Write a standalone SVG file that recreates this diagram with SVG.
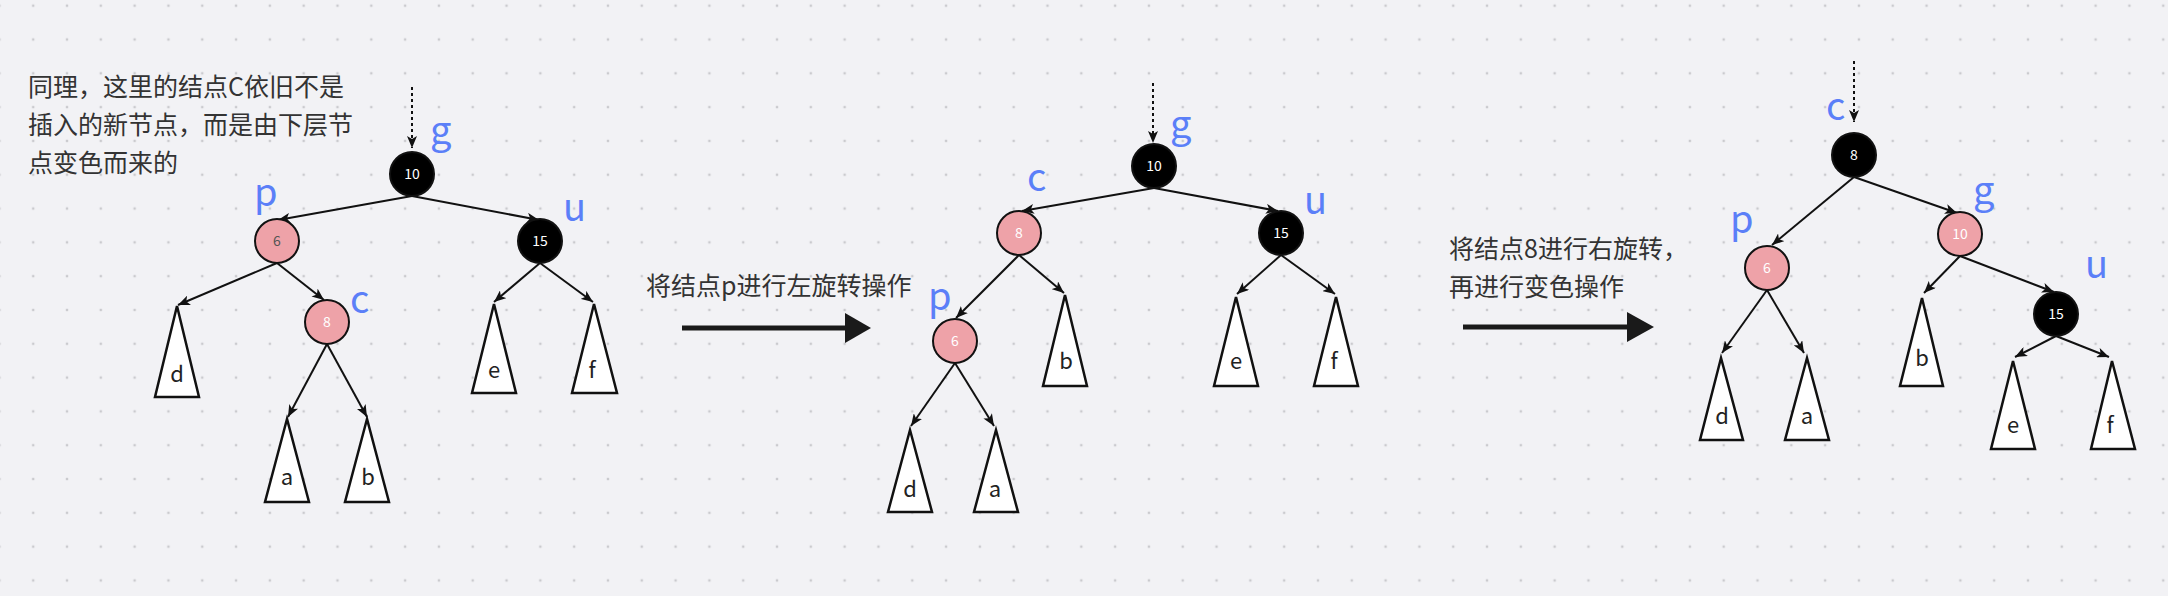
<svg xmlns="http://www.w3.org/2000/svg" width="2168" height="596" viewBox="0 0 2168 596">
<style>
.cjk{font-family:"Noto Sans CJK SC","Noto Sans",sans-serif;font-size:25px;fill:#333333}
.lbl{font-family:"Noto Sans CJK SC","Noto Sans",sans-serif;font-size:38px;fill:#5b7ff8}
.num{font-family:"Noto Sans CJK SC","Noto Sans",sans-serif;font-size:14px;fill:#ffffff;text-anchor:middle}
.tri{fill:#ffffff;stroke:#111111;stroke-width:2.5;stroke-linejoin:miter}
.tl{font-family:"Noto Sans CJK SC","Noto Sans",sans-serif;font-size:22px;fill:#222222;text-anchor:middle}
.blk{fill:#000000;stroke:#111111;stroke-width:2}
.red{fill:#eea2a8;stroke:#111111;stroke-width:2}
.edge{stroke:#111111;stroke-width:2;fill:none;marker-end:url(#ah)}
.dash{stroke:#111111;stroke-width:2;fill:none;stroke-dasharray:3 3;marker-end:url(#ah)}
.big{stroke:#1a1a1a;stroke-width:5;fill:none}
</style>
<defs>
<pattern id="grid" patternUnits="userSpaceOnUse" x="16.3" y="56.4" width="33.81" height="33.81">
<rect x="15.7" y="15.7" width="2.4" height="2.4" fill="#cacace"/>
</pattern>
<marker id="ah" markerUnits="userSpaceOnUse" viewBox="0 0 12 10" refX="12" refY="5" markerWidth="12" markerHeight="10" orient="auto">
<path d="M0,0 L12,5 L0,10 L3,5 Z" fill="#111111"/>
</marker>
</defs>
<rect width="2168" height="596" fill="#f2f2f5"/>
<rect width="2168" height="596" fill="url(#grid)"/>

<g id="connectors">
<!-- tree 1 -->
<line class="dash" x1="412" y1="87" x2="412" y2="148"/>
<line class="edge" x1="412" y1="196" x2="278" y2="220"/>
<line class="edge" x1="412" y1="196" x2="539" y2="220"/>
<line class="edge" x1="277" y1="263" x2="178" y2="305"/>
<line class="edge" x1="277" y1="263" x2="324" y2="300"/>
<line class="edge" x1="327" y1="344" x2="288" y2="417"/>
<line class="edge" x1="327" y1="344" x2="367" y2="417"/>
<line class="edge" x1="540" y1="263" x2="494" y2="302"/>
<line class="edge" x1="540" y1="263" x2="593" y2="302"/>
<!-- tree 2 -->
<line class="dash" x1="1153" y1="83" x2="1153" y2="143"/>
<line class="edge" x1="1154" y1="188" x2="1022" y2="211"/>
<line class="edge" x1="1154" y1="188" x2="1278" y2="211"/>
<line class="edge" x1="1019" y1="255" x2="956" y2="318"/>
<line class="edge" x1="1019" y1="255" x2="1064" y2="293"/>
<line class="edge" x1="1281" y1="255" x2="1237" y2="294"/>
<line class="edge" x1="1281" y1="255" x2="1335" y2="294"/>
<line class="edge" x1="955" y1="363" x2="911" y2="426"/>
<line class="edge" x1="955" y1="363" x2="994" y2="426"/>
<!-- tree 3 -->
<line class="dash" x1="1854" y1="61" x2="1854" y2="122"/>
<line class="edge" x1="1854" y1="177" x2="1772" y2="245"/>
<line class="edge" x1="1854" y1="177" x2="1957" y2="213"/>
<line class="edge" x1="1767" y1="290" x2="1722" y2="353"/>
<line class="edge" x1="1767" y1="290" x2="1804" y2="353"/>
<line class="edge" x1="1960" y1="256" x2="1924" y2="293"/>
<line class="edge" x1="1960" y1="256" x2="2054" y2="292"/>
<line class="edge" x1="2056" y1="336" x2="2015" y2="357"/>
<line class="edge" x1="2056" y1="336" x2="2109" y2="357"/>
<!-- big arrows -->
<line class="big" x1="682" y1="328" x2="847" y2="328"/>
<polygon points="845,313 871,328 845,343" fill="#1a1a1a"/>
<line class="big" x1="1463" y1="327" x2="1629" y2="327"/>
<polygon points="1627,312 1654,327 1627,342" fill="#1a1a1a"/>
</g>

<g id="note1">
<text class="cjk" x="28" y="96">同理，这里的结点C依旧不是</text>
<text class="cjk" x="28" y="134">插入的新节点，而是由下层节</text>
<text class="cjk" x="28" y="172">点变色而来的</text>
</g>
<g id="note2"><text class="cjk" x="646" y="295">将结点p进行左旋转操作</text></g>
<g id="note3">
<text class="cjk" x="1449" y="258">将结点8进行右旋转，</text>
<text class="cjk" x="1449" y="296">再进行变色操作</text>
</g>

<!-- Tree 1 -->
<g id="t1-g"><circle class="blk" cx="412" cy="174" r="22"/><text class="num" x="412" y="179">10</text><text class="lbl" x="430" y="144">g</text></g>
<g id="t1-p"><circle class="red" cx="277" cy="241" r="22"/><text class="num" x="277" y="246" style="fill:#555555">6</text><text class="lbl" x="254" y="206">p</text></g>
<g id="t1-u"><circle class="blk" cx="540" cy="241" r="22"/><text class="num" x="540" y="246">15</text><text class="lbl" x="563" y="221">u</text></g>
<g id="t1-c"><circle class="red" cx="327" cy="322" r="22"/><text class="num" x="327" y="327">8</text><text class="lbl" x="350" y="313">c</text></g>
<g id="t1-d"><polygon class="tri" points="177,306 155,397 199,397"/><text class="tl" x="177" y="382">d</text></g>
<g id="t1-a"><polygon class="tri" points="287,419 265,502 309,502"/><text class="tl" x="287" y="485">a</text></g>
<g id="t1-b"><polygon class="tri" points="367,419 345,502 389,502"/><text class="tl" x="368" y="485">b</text></g>
<g id="t1-e"><polygon class="tri" points="494,304 472,393 516,393"/><text class="tl" x="494" y="378">e</text></g>
<g id="t1-f"><polygon class="tri" points="594,304 572,393 617,393"/><text class="tl" x="592" y="378">f</text></g>

<!-- Tree 2 -->
<g id="t2-g"><circle class="blk" cx="1154" cy="166" r="22"/><text class="num" x="1154" y="171">10</text><text class="lbl" x="1170" y="138">g</text></g>
<g id="t2-c"><circle class="red" cx="1019" cy="233" r="22"/><text class="num" x="1019" y="238">8</text><text class="lbl" x="1027" y="191">c</text></g>
<g id="t2-u"><circle class="blk" cx="1281" cy="233" r="22"/><text class="num" x="1281" y="238">15</text><text class="lbl" x="1304" y="214">u</text></g>
<g id="t2-p"><circle class="red" cx="955" cy="341" r="22"/><text class="num" x="955" y="346">6</text><text class="lbl" x="928" y="310">p</text></g>
<g id="t2-b"><polygon class="tri" points="1065,295 1043,386 1087,386"/><text class="tl" x="1066" y="369">b</text></g>
<g id="t2-e"><polygon class="tri" points="1236,297 1214,386 1258,386"/><text class="tl" x="1236" y="369">e</text></g>
<g id="t2-f"><polygon class="tri" points="1336,297 1314,386 1358,386"/><text class="tl" x="1334" y="369">f</text></g>
<g id="t2-d"><polygon class="tri" points="910,430 888,512 932,512"/><text class="tl" x="910" y="497">d</text></g>
<g id="t2-a"><polygon class="tri" points="996,430 974,512 1018,512"/><text class="tl" x="995" y="497">a</text></g>

<!-- Tree 3 -->
<g id="t3-root"><circle class="blk" cx="1854" cy="155" r="22"/><text class="num" x="1854" y="160">8</text><text class="lbl" x="1826" y="120">c</text></g>
<g id="t3-p"><circle class="red" cx="1767" cy="268" r="22"/><text class="num" x="1767" y="273">6</text><text class="lbl" x="1730" y="233">p</text></g>
<g id="t3-g"><circle class="red" cx="1960" cy="234" r="22"/><text class="num" x="1960" y="239">10</text><text class="lbl" x="1973" y="204">g</text></g>
<g id="t3-u"><circle class="blk" cx="2056" cy="314" r="22"/><text class="num" x="2056" y="319">15</text><text class="lbl" x="2085" y="278">u</text></g>
<g id="t3-d"><polygon class="tri" points="1721,358 1700,440 1743,440"/><text class="tl" x="1722" y="424">d</text></g>
<g id="t3-a"><polygon class="tri" points="1807,358 1785,440 1829,440"/><text class="tl" x="1807" y="424">a</text></g>
<g id="t3-b"><polygon class="tri" points="1922,298 1900,386 1943,386"/><text class="tl" x="1922" y="366">b</text></g>
<g id="t3-e"><polygon class="tri" points="2013,361 1991,449 2035,449"/><text class="tl" x="2013" y="433">e</text></g>
<g id="t3-f"><polygon class="tri" points="2112,361 2091,449 2135,449"/><text class="tl" x="2110" y="433">f</text></g>
</svg>
